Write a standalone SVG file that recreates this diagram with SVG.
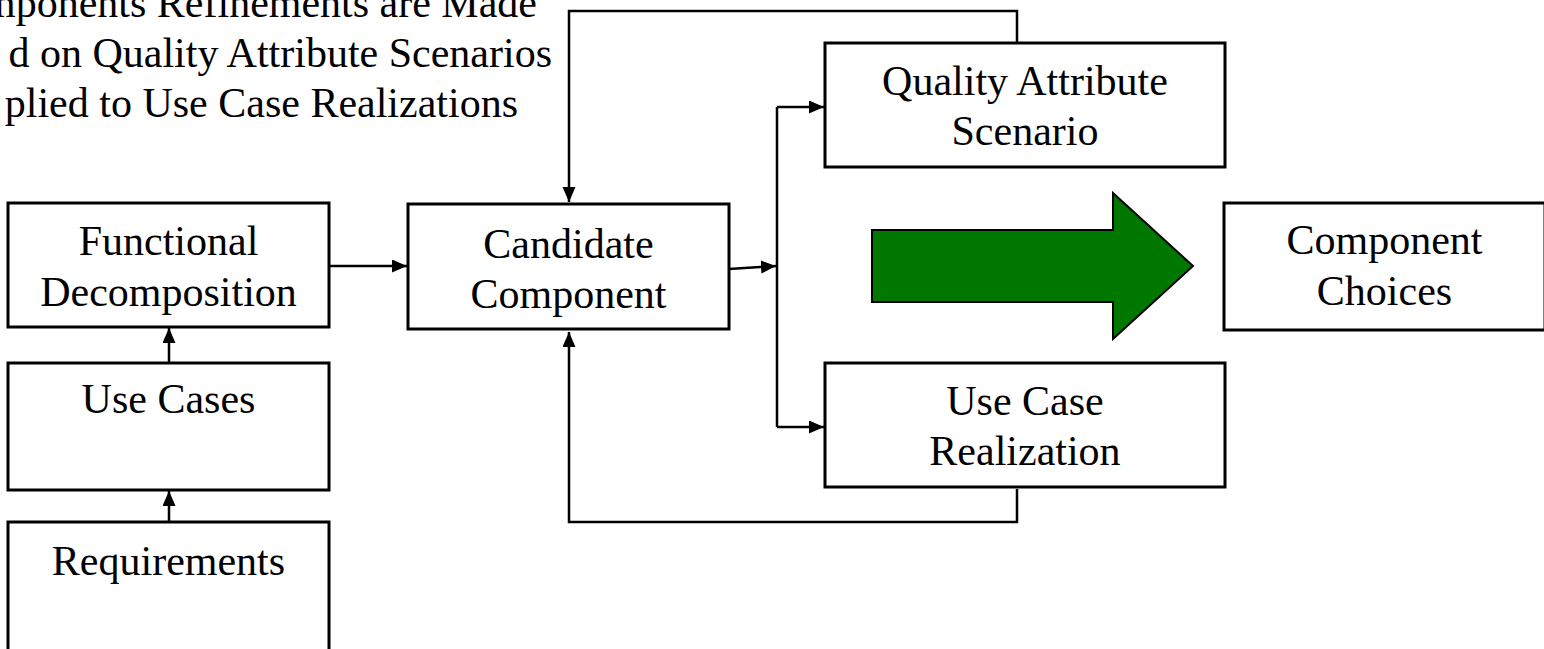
<svg xmlns="http://www.w3.org/2000/svg" width="1544" height="649" viewBox="0 0 1544 649">
<style>
.box{fill:#fff;stroke:#000;stroke-width:3}
.t{font-family:"Liberation Serif","Times New Roman",serif;font-size:42px;fill:#000;text-anchor:middle}
.title{font-family:"Liberation Serif","Times New Roman",serif;font-size:42px;fill:#000;text-anchor:end}
.c{fill:none;stroke:#000;stroke-width:2.5}
</style>
<defs>
<marker id="ah" markerUnits="userSpaceOnUse" markerWidth="16" markerHeight="14" refX="15" refY="6.5" orient="auto">
<path d="M0,0 L15,6.5 L0,13 z" fill="#000"/>
</marker>
</defs>
<rect width="1544" height="649" fill="#fff"/>
<g id="title">
<text class="title" x="537" y="17">mponents Refinements are Made</text>
<text class="title" x="552" y="67">d on Quality Attribute Scenarios</text>
<text class="title" x="518" y="117">plied to Use Case Realizations</text>
</g>
<g id="connectors">
<line class="c" x1="169" y1="522" x2="169" y2="491" marker-end="url(#ah)"/>
<line class="c" x1="169" y1="363" x2="169" y2="328" marker-end="url(#ah)"/>
<line class="c" x1="329" y1="266" x2="407" y2="266" marker-end="url(#ah)"/>
<line class="c" x1="729" y1="269" x2="776" y2="266" marker-end="url(#ah)"/>
<polyline class="c" points="777,107 777,427"/>
<line class="c" x1="777" y1="107" x2="824" y2="107" marker-end="url(#ah)"/>
<line class="c" x1="777" y1="427" x2="824" y2="427" marker-end="url(#ah)"/>
<polyline class="c" points="1017,43 1017,11 569,11 569,202" marker-end="url(#ah)"/>
<polyline class="c" points="1017,489 1017,522 569,522 569,332" marker-end="url(#ah)"/>
</g>
<g id="functional">
<rect class="box" x="8" y="203" width="321" height="124"/>
<text class="t" x="168.5" y="255">Functional</text>
<text class="t" x="168.5" y="306">Decomposition</text>
</g>
<g id="usecases">
<rect class="box" x="8" y="363" width="321" height="127"/>
<text class="t" x="168.5" y="413">Use Cases</text>
</g>
<g id="requirements">
<rect class="box" x="8" y="522" width="321" height="140"/>
<text class="t" x="168.5" y="575">Requirements</text>
</g>
<g id="candidate">
<rect class="box" x="408" y="204" width="321" height="125"/>
<text class="t" x="568.5" y="258">Candidate</text>
<text class="t" x="568.5" y="308">Component</text>
</g>
<g id="qas">
<rect class="box" x="825" y="43" width="400" height="124"/>
<text class="t" x="1025" y="95">Quality Attribute</text>
<text class="t" x="1025" y="145">Scenario</text>
</g>
<g id="ucr">
<rect class="box" x="825" y="363" width="400" height="124"/>
<text class="t" x="1025" y="415">Use Case</text>
<text class="t" x="1025" y="465">Realization</text>
</g>
<g id="bigarrow">
<polygon points="872,230 1113,230 1113,193 1193,266 1113,339 1113,302 872,302" fill="#007800" stroke="#000" stroke-width="2"/>
</g>
<g id="choices">
<rect class="box" x="1224" y="203" width="321" height="127"/>
<text class="t" x="1384.5" y="254">Component</text>
<text class="t" x="1384.5" y="305">Choices</text>
</g>
</svg>
